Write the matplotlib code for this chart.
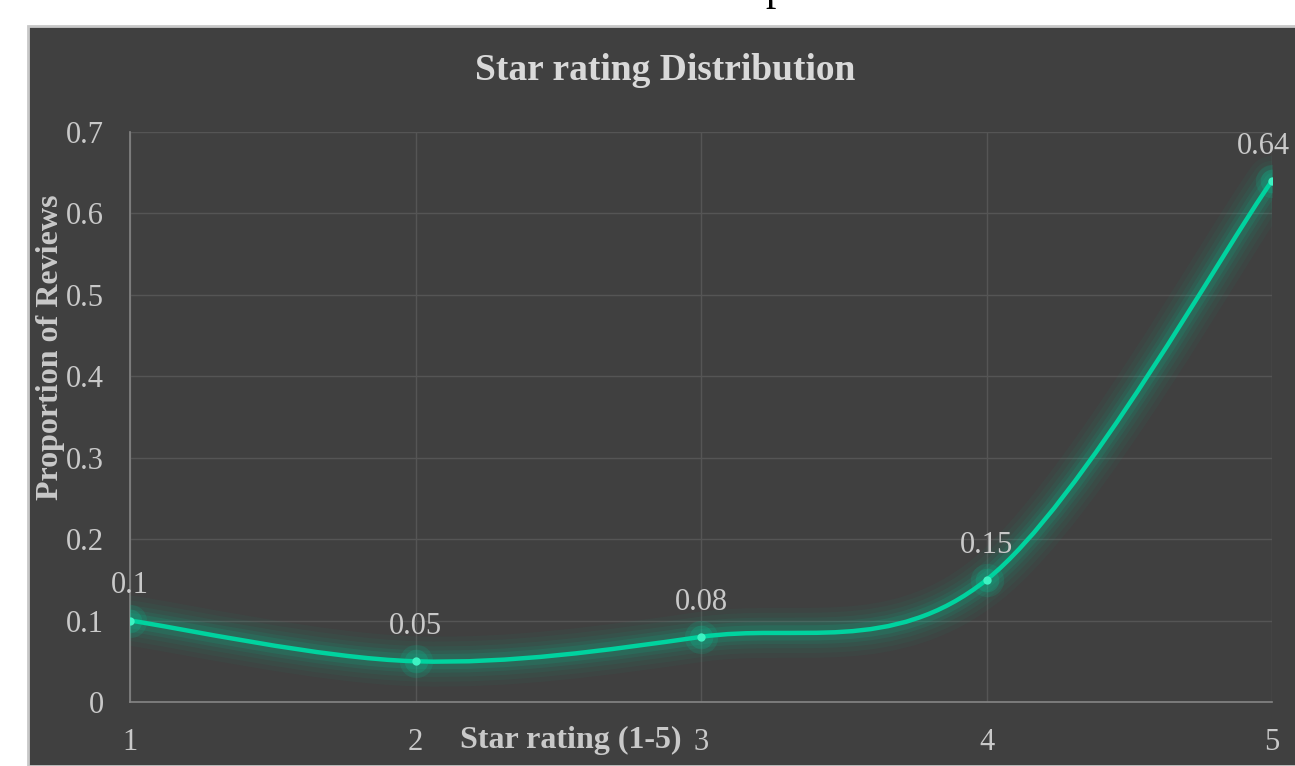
import numpy as np
import matplotlib
matplotlib.use("Agg")
import matplotlib.pyplot as plt
from matplotlib.path import Path
from matplotlib.patches import PathPatch, Rectangle

# data
ratings = [1, 2, 3, 4, 5]
proportions = [0.1, 0.05, 0.08, 0.15, 0.64]
y_ticks = [0, 0.1, 0.2, 0.3, 0.4, 0.5, 0.6, 0.7]
y_tick_labels = ["0", "0.1", "0.2", "0.3", "0.4", "0.5", "0.6", "0.7"]

# colours
panel_bg = "#404040"
text_col = "#c9c9c9"
line_col = "#00d39f"
marker_col = "#3ef2c2"
grid_col = "#555555"

plt.rcParams["font.family"] = ["Liberation Serif", "DejaVu Serif"]

fig = plt.figure(figsize=(12.95, 7.66), dpi=100)
fig.patch.set_facecolor("white")

# dark chart panel with light border
fig.patches.append(Rectangle((28 / 1295, 0), 1.0, 1 - 26 / 766, transform=fig.transFigure,
                             facecolor=panel_bg, edgecolor="#c8c8c8", linewidth=2, zorder=-5))
# descender of cut-off text above the chart
fig.text(776 / 1295, 1.0, "p", fontsize=30, color="black", ha="center", va="baseline")

ax = fig.add_axes([130 / 1295, 1 - 702 / 766, 1142 / 1295, 570 / 766])
ax.set_facecolor("none")
ax.set_xlim(1, 5)
ax.set_ylim(0, 0.7)

ax.set_xticks(ratings)
ax.set_xticklabels([str(r) for r in ratings])
ax.set_yticks(y_ticks)
ax.set_yticklabels(y_tick_labels)
ax.tick_params(axis="both", length=0, labelsize=22, colors=text_col)
ax.tick_params(axis="x", pad=19)
ax.tick_params(axis="y", pad=19)
ax.grid(True, color=grid_col, linewidth=1)
ax.set_axisbelow(True)
for s in ["top", "right"]:
    ax.spines[s].set_visible(False)
for s in ["left", "bottom"]:
    ax.spines[s].set_color("#858585")
    ax.spines[s].set_linewidth(1.2)

# smoothed line (cubic bezier segments, Excel-like smoothing)
pts = np.column_stack([ratings, proportions]).astype(float)
verts = [tuple(pts[0])]
codes = [Path.MOVETO]
n = len(pts)
for i in range(n - 1):
    p_prev = pts[i - 1] if i > 0 else pts[i]
    p_next2 = pts[i + 2] if i + 2 < n else pts[i + 1]
    c1 = pts[i] + (pts[i + 1] - p_prev) / 6
    c2 = pts[i + 1] - (p_next2 - pts[i]) / 6
    verts += [tuple(c1), tuple(c2), tuple(pts[i + 1])]
    codes += [Path.CURVE4] * 3
path = Path(verts, codes)

# glow
for lw, a in [(36, 0.035), (29, 0.045), (22, 0.06), (16, 0.08), (11, 0.11)]:
    ax.add_patch(PathPatch(path, facecolor="none", edgecolor=line_col, linewidth=lw,
                           alpha=a, capstyle="round", joinstyle="round", zorder=3))
ax.add_patch(PathPatch(path, facecolor="none", edgecolor=line_col, linewidth=3.2,
                       capstyle="round", zorder=4))
for ms, a in [(24, 0.12), (17, 0.18)]:
    ax.plot(ratings, proportions, "o", ms=ms, color=line_col, alpha=a, mec="none", zorder=4)
ax.plot(ratings, proportions, "o", ms=6, color=marker_col, mec="none", zorder=5)

# data labels
for i, (x, y) in enumerate(zip(ratings, proportions)):
    dx = -6 if i == len(ratings) - 1 else 0
    ax.annotate(f"{y:g}", (x, y), xytext=(dx, 25), textcoords="offset points",
                ha="center", va="center", fontsize=22, color=text_col, zorder=6,
                annotation_clip=False)

# titles and axis labels
fig.text(665 / 1295, 1 - 70 / 766, "Star rating Distribution", fontsize=27, fontweight="bold",
         color="#d9d9d9", ha="center", va="center")
ax.set_ylabel("Proportion of Reviews", fontsize=23, fontweight="bold", color=text_col)
ax.yaxis.set_label_coords(-0.07, 0.623)
ax.set_xlabel("Star rating (1-5)", fontsize=23, fontweight="bold", color=text_col)
ax.xaxis.set_label_coords(0.386, -0.067)
ax.xaxis.label.set_va("center")
ax.yaxis.label.set_va("center")

fig.savefig("out.png", dpi=100, facecolor=fig.get_facecolor())
